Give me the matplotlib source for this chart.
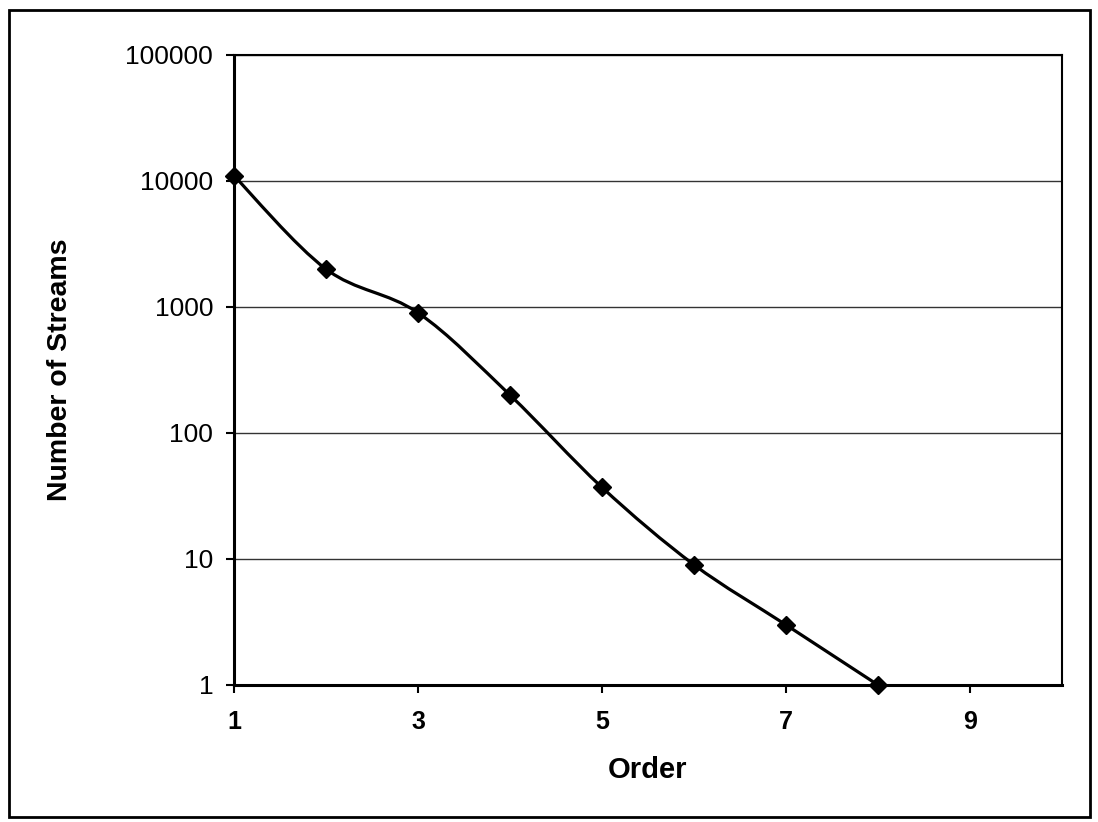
import numpy as np
import matplotlib.pyplot as plt
from matplotlib.path import Path
from matplotlib.patches import PathPatch, Rectangle
from matplotlib.ticker import FixedLocator, FixedFormatter, NullLocator

plt.rcParams['font.family'] = ['Liberation Sans', 'DejaVu Sans']

# stream order vs number of streams
order = [1, 2, 3, 4, 5, 6, 7, 8]
streams = [11000, 2000, 900, 200, 37, 9, 3, 1]

x_ticks = [1, 3, 5, 7, 9]
y_ticks = [1, 10, 100, 1000, 10000, 100000]
y_tick_labels = ['1', '10', '100', '1000', '10000', '100000']

fig = plt.figure(figsize=(10.98, 8.22), dpi=100)
ax = fig.add_axes([0.2131, 0.1667, 0.7541, 0.7664])

ax.set_yscale('log')
ax.set_xlim(1, 10)
ax.set_ylim(1, 100000)

# smoothed line (Excel-style), built as bezier in log space
xs = np.array(order, dtype=float)
ls = np.log10(np.array(streams, dtype=float))
t = 1 / 6
verts = [(xs[0], 10 ** ls[0])]
codes = [Path.MOVETO]
n = len(xs)
for i in range(n - 1):
    p0x, p0y = (xs[i - 1], ls[i - 1]) if i > 0 else (xs[i], ls[i])
    p3x, p3y = (xs[i + 2], ls[i + 2]) if i + 2 < n else (xs[i + 1], ls[i + 1])
    c1 = (xs[i] + (xs[i + 1] - p0x) * t, ls[i] + (ls[i + 1] - p0y) * t)
    c2 = (xs[i + 1] - (p3x - xs[i]) * t, ls[i + 1] - (p3y - ls[i]) * t)
    verts += [(c1[0], 10 ** c1[1]), (c2[0], 10 ** c2[1]), (xs[i + 1], 10 ** ls[i + 1])]
    codes += [Path.CURVE4] * 3
ax.add_patch(PathPatch(Path(verts, codes), facecolor='none', edgecolor='black',
                       lw=2.3, zorder=3, clip_on=False))
ax.plot(order, streams, linestyle='none', marker='D', markersize=9,
        color='black', zorder=4, clip_on=False)

ax.yaxis.set_major_locator(FixedLocator(y_ticks))
ax.yaxis.set_major_formatter(FixedFormatter(y_tick_labels))
ax.yaxis.set_minor_locator(NullLocator())
ax.set_xticks(x_ticks)
ax.set_xticklabels([str(v) for v in x_ticks])

ax.grid(axis='y', color='#333333', lw=1.0)
ax.set_axisbelow(True)
ax.tick_params(direction='out', length=6, width=1.5)
ax.tick_params(axis='x', labelsize=18, pad=12)
ax.tick_params(axis='y', labelsize=19, pad=9)
for lab in ax.get_xticklabels():
    lab.set_fontweight('bold')

for side in ['top', 'right']:
    ax.spines[side].set_linewidth(1.5)
for side in ['left', 'bottom']:
    ax.spines[side].set_linewidth(2.2)

ax.set_xlabel('Order', fontsize=21, fontweight='bold')
ax.set_ylabel('Number of Streams', fontsize=20.5, fontweight='bold')
ax.xaxis.set_label_coords(0.5, -0.1127)
ax.yaxis.set_label_coords(-0.1945, 0.5)

fig.patches.append(Rectangle((0.008, 0.006), 0.985, 0.982, transform=fig.transFigure,
                             fill=False, edgecolor='black', lw=2))

fig.savefig('out.png', dpi=100)
